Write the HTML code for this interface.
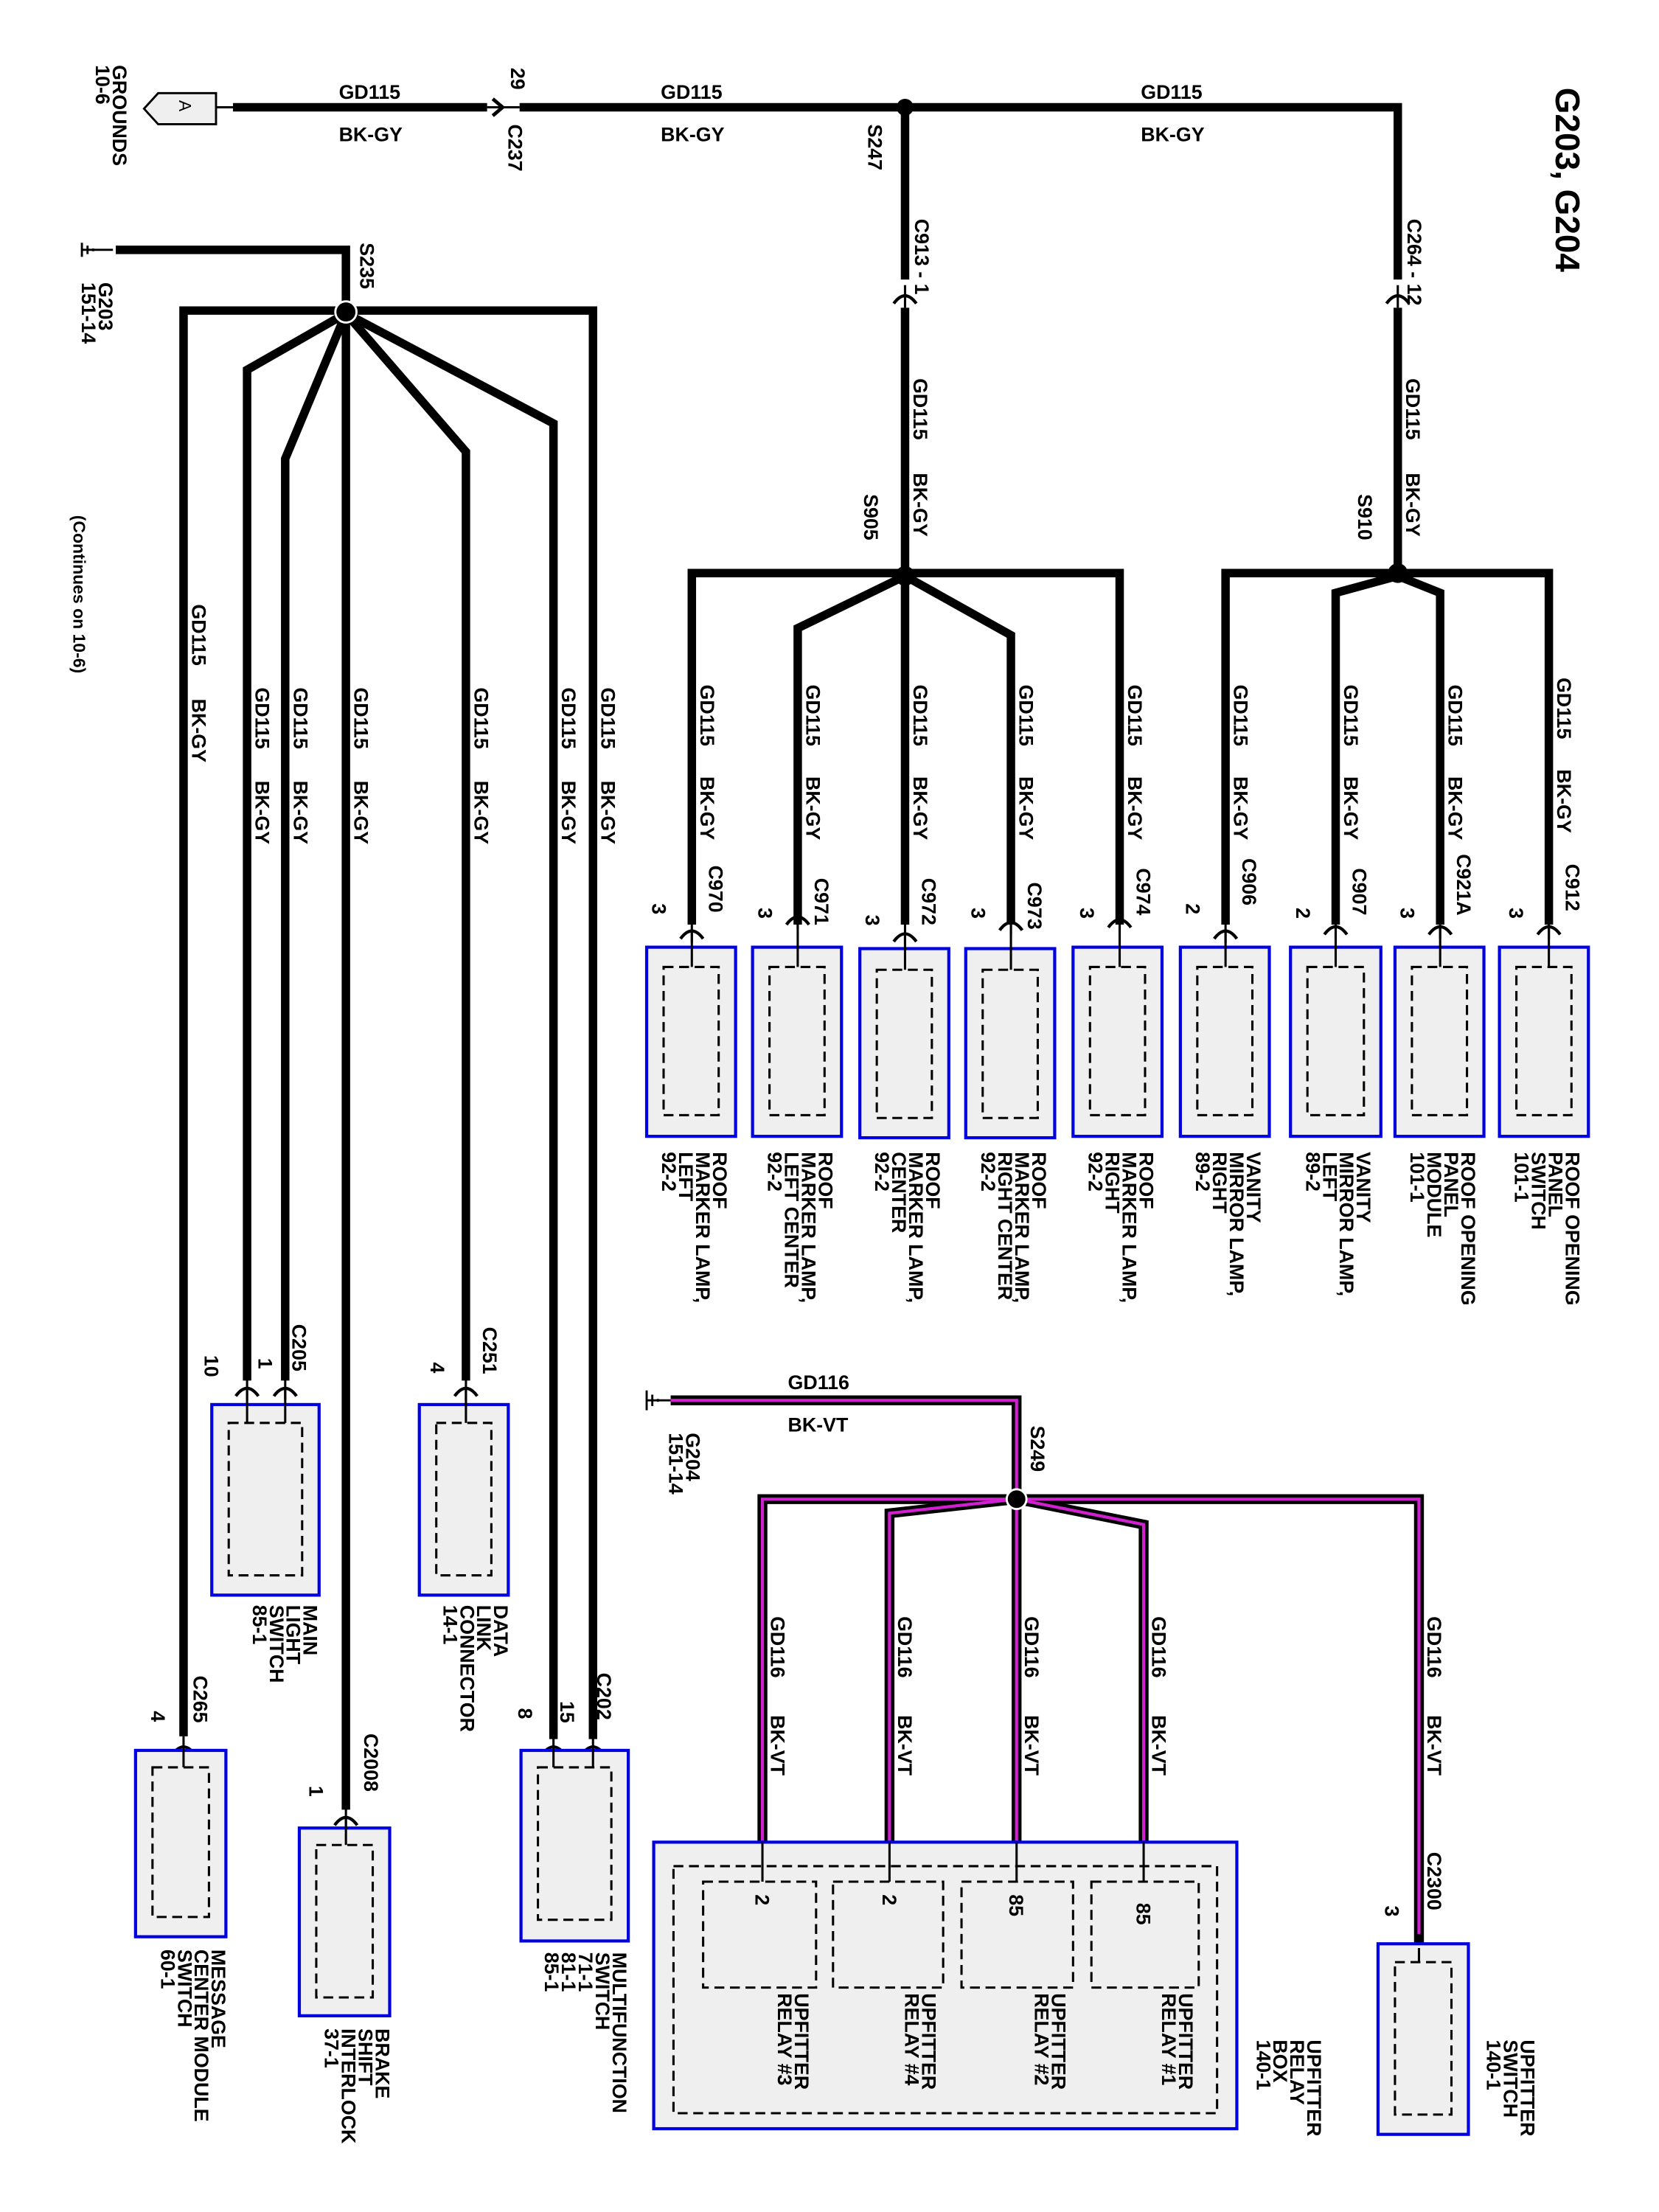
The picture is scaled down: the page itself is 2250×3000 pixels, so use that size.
<!DOCTYPE html>
<html><head><meta charset="utf-8"><style>
html,body{margin:0;padding:0;background:#fff;}
svg{display:block;}
text{font-family:"Liberation Sans",sans-serif;font-size:14px;fill:#000;font-weight:bold;}
.w{stroke:#000;stroke-width:6;fill:none;stroke-linejoin:miter;}
.wt{stroke:#000;stroke-width:1.6;fill:none;}
.b{fill:#efefef;stroke:#0000e0;stroke-width:2.2;}
.d{fill:none;stroke:#000;stroke-width:1.6;stroke-dasharray:7,4;}
.pb{stroke:#000;stroke-width:7;fill:none;}
.pm{stroke:#d020d0;stroke-width:2.2;fill:none;}
</style></head><body>
<svg width="2250" height="3000" viewBox="0 0 1175 1567" preserveAspectRatio="none" xmlns="http://www.w3.org/2000/svg">
<defs>
<g id="ch"><path d="M-8,7 Q0,-4 8,7" fill="none" stroke="#000" stroke-width="2.2"/><line x1="0" y1="-6" x2="0" y2="10" stroke="#000" stroke-width="1.6"/></g>
</defs>

<text transform="translate(1102,62) rotate(90)" style="font-size:24px">G203, G204</text>

<path d="M153,66 L153,88 L112,88 L102,77 L112,66 Z" fill="#efefef" stroke="#000" stroke-width="1.5"/>
<text transform="translate(127,71) rotate(90)" style="font-size:12px;font-weight:normal">A</text>
<text transform="translate(80,46) rotate(90)">GROUNDS</text>
<text transform="translate(68,46) rotate(90)">10-6</text>
<line x1="153" y1="76" x2="165" y2="76" class="wt"/>
<line x1="165" y1="76" x2="345" y2="76" class="w"/>
<path d="M349,70 L356,76 L349,82" fill="none" stroke="#000" stroke-width="2.5"/>
<line x1="345" y1="76" x2="368" y2="76" class="wt"/>
<path d="M368,76 L990,76 L990,198" class="w"/>
<text x="240" y="70">GD115</text><text x="240" y="100">BK-GY</text>
<text x="468" y="70">GD115</text><text x="468" y="100">BK-GY</text>
<text x="808" y="70">GD115</text><text x="808" y="100">BK-GY</text>
<text transform="translate(362,48) rotate(90)">29</text>
<text transform="translate(360,88) rotate(90)">C237</text>
<circle cx="641" cy="76" r="6"/>
<text transform="translate(615,88) rotate(90)">S247</text>
<line x1="641" y1="76" x2="641" y2="198" class="w"/>
<use href="#ch" x="641" y="208"/>
<line x1="641" y1="218" x2="641" y2="408" class="w"/>
<text transform="translate(648,155) rotate(90)">C913 - 1</text>
<use href="#ch" x="990" y="208"/>
<line x1="990" y1="218" x2="990" y2="408" class="w"/>
<text transform="translate(997,155) rotate(90)">C264 - 12</text>
<text transform="translate(647,268) rotate(90)">GD115</text>
<text transform="translate(647,335) rotate(90)">BK-GY</text>
<text transform="translate(996,268) rotate(90)">GD115</text>
<text transform="translate(996,335) rotate(90)">BK-GY</text>
<text transform="translate(612,350) rotate(90)">S905</text>
<text transform="translate(962,350) rotate(90)">S910</text>

<path d="M490,655 L490,406 L641,406 L793,406 L793,655" class="w"/>
<path d="M641,408 L565,445 L565,655" class="w"/>
<path d="M641,408 L641,655" class="w"/>
<path d="M641,408 L716,450 L716,655" class="w"/>
<circle cx="641" cy="408" r="7"/>
<path d="M868,655 L868,406 L1097,406 L1097,655" class="w"/>
<path d="M990,408 L946,420 L946,655" class="w"/>
<path d="M990,408 L1020,420 L1020,655" class="w"/>
<circle cx="990" cy="406" r="7"/>

<g>
<text transform="translate(496,485) rotate(90)">GD115</text><text transform="translate(496,550) rotate(90)">BK-GY</text>
<text transform="translate(571,485) rotate(90)">GD115</text><text transform="translate(571,550) rotate(90)">BK-GY</text>
<text transform="translate(647,485) rotate(90)">GD115</text><text transform="translate(647,550) rotate(90)">BK-GY</text>
<text transform="translate(722,485) rotate(90)">GD115</text><text transform="translate(722,550) rotate(90)">BK-GY</text>
<text transform="translate(799,485) rotate(90)">GD115</text><text transform="translate(799,550) rotate(90)">BK-GY</text>
<text transform="translate(874,485) rotate(90)">GD115</text><text transform="translate(874,550) rotate(90)">BK-GY</text>
<text transform="translate(952,485) rotate(90)">GD115</text><text transform="translate(952,550) rotate(90)">BK-GY</text>
<text transform="translate(1026,485) rotate(90)">GD115</text><text transform="translate(1026,550) rotate(90)">BK-GY</text>
<text transform="translate(1103,480) rotate(90)">GD115</text><text transform="translate(1103,545) rotate(90)">BK-GY</text>
</g>
<g>
<text transform="translate(502,613) rotate(90)">C970</text><text transform="translate(462,640) rotate(90)">3</text>
<text transform="translate(577,622) rotate(90)">C971</text><text transform="translate(537,643) rotate(90)">3</text>
<text transform="translate(653,622) rotate(90)">C972</text><text transform="translate(613,648) rotate(90)">3</text>
<text transform="translate(728,625) rotate(90)">C973</text><text transform="translate(688,643) rotate(90)">3</text>
<text transform="translate(805,615) rotate(90)">C974</text><text transform="translate(765,643) rotate(90)">3</text>
<text transform="translate(880,608) rotate(90)">C906</text><text transform="translate(840,640) rotate(90)">2</text>
<text transform="translate(958,615) rotate(90)">C907</text><text transform="translate(918,643) rotate(90)">2</text>
<text transform="translate(1032,605) rotate(90)">C921A</text><text transform="translate(992,643) rotate(90)">3</text>
<text transform="translate(1109,612) rotate(90)">C912</text><text transform="translate(1069,643) rotate(90)">3</text>
</g>
<g>
<use href="#ch" x="490" y="658"/><use href="#ch" x="565" y="648"/><use href="#ch" x="641" y="660"/><use href="#ch" x="716" y="652"/><use href="#ch" x="793" y="650"/>
<use href="#ch" x="868" y="658"/><use href="#ch" x="946" y="655"/><use href="#ch" x="1020" y="655"/><use href="#ch" x="1097" y="655"/>
</g>
<g>
<rect class="b" x="458" y="671" width="63" height="134"/><rect class="d" x="470" y="685" width="39" height="105"/><line x1="490" y1="660" x2="490" y2="685" class="wt"/>
<rect class="b" x="533" y="671" width="63" height="134"/><rect class="d" x="545" y="685" width="39" height="105"/><line x1="565" y1="650" x2="565" y2="685" class="wt"/>
<rect class="b" x="609" y="672" width="63" height="134"/><rect class="d" x="621" y="687" width="39" height="105"/><line x1="641" y1="662" x2="641" y2="687" class="wt"/>
<rect class="b" x="684" y="672" width="63" height="134"/><rect class="d" x="696" y="687" width="39" height="105"/><line x1="716" y1="654" x2="716" y2="687" class="wt"/>
<rect class="b" x="760" y="671" width="63" height="134"/><rect class="d" x="772" y="685" width="39" height="105"/><line x1="793" y1="652" x2="793" y2="685" class="wt"/>
<rect class="b" x="836" y="671" width="63" height="134"/><rect class="d" x="848" y="685" width="39" height="105"/><line x1="868" y1="660" x2="868" y2="685" class="wt"/>
<rect class="b" x="914" y="671" width="64" height="134"/><rect class="d" x="926" y="685" width="40" height="105"/><line x1="946" y1="657" x2="946" y2="685" class="wt"/>
<rect class="b" x="988" y="671" width="63" height="134"/><rect class="d" x="1000" y="685" width="39" height="105"/><line x1="1020" y1="657" x2="1020" y2="685" class="wt"/>
<rect class="b" x="1062" y="671" width="63" height="134"/><rect class="d" x="1074" y="685" width="39" height="105"/><line x1="1097" y1="657" x2="1097" y2="685" class="wt"/>
</g>
<g>
<text transform="translate(505,816) rotate(90)"><tspan x="0" y="0">ROOF</tspan><tspan x="0" dy="12">MARKER LAMP,</tspan><tspan x="0" dy="12">LEFT</tspan><tspan x="0" dy="12">92-2</tspan></text>
<text transform="translate(580,816) rotate(90)"><tspan x="0" y="0">ROOF</tspan><tspan x="0" dy="12">MARKER LAMP,</tspan><tspan x="0" dy="12">LEFT CENTER</tspan><tspan x="0" dy="12">92-2</tspan></text>
<text transform="translate(656,816) rotate(90)"><tspan x="0" y="0">ROOF</tspan><tspan x="0" dy="12">MARKER LAMP,</tspan><tspan x="0" dy="12">CENTER</tspan><tspan x="0" dy="12">92-2</tspan></text>
<text transform="translate(731,816) rotate(90)"><tspan x="0" y="0">ROOF</tspan><tspan x="0" dy="12">MARKER LAMP,</tspan><tspan x="0" dy="12">RIGHT CENTER</tspan><tspan x="0" dy="12">92-2</tspan></text>
<text transform="translate(807,816) rotate(90)"><tspan x="0" y="0">ROOF</tspan><tspan x="0" dy="12">MARKER LAMP,</tspan><tspan x="0" dy="12">RIGHT</tspan><tspan x="0" dy="12">92-2</tspan></text>
<text transform="translate(883,816) rotate(90)"><tspan x="0" y="0">VANITY</tspan><tspan x="0" dy="12">MIRROR LAMP,</tspan><tspan x="0" dy="12">RIGHT</tspan><tspan x="0" dy="12">89-2</tspan></text>
<text transform="translate(961,816) rotate(90)"><tspan x="0" y="0">VANITY</tspan><tspan x="0" dy="12">MIRROR LAMP,</tspan><tspan x="0" dy="12">LEFT</tspan><tspan x="0" dy="12">89-2</tspan></text>
<text transform="translate(1035,816) rotate(90)"><tspan x="0" y="0">ROOF OPENING</tspan><tspan x="0" dy="12">PANEL</tspan><tspan x="0" dy="12">MODULE</tspan><tspan x="0" dy="12">101-1</tspan></text>
<text transform="translate(1109,816) rotate(90)"><tspan x="0" y="0">ROOF OPENING</tspan><tspan x="0" dy="12">PANEL</tspan><tspan x="0" dy="12">SWITCH</tspan><tspan x="0" dy="12">101-1</tspan></text>
</g>

<path d="M58,172 L58,182 M62,174 L62,180 M66,176 L66,178 M58,177 L80,177" stroke="#000" stroke-width="1.5" fill="none"/>
<text transform="translate(70,200) rotate(90)">G203</text>
<text transform="translate(58,200) rotate(90)">151-14</text>
<path d="M82,177 L245,177 L245,220" class="w"/>
<text transform="translate(255,172) rotate(90)">S235</text>
<path d="M130,1230 L130,220 L420,220 L420,1232" class="w"/>
<path d="M245,222 L175,262 L175,978" class="w"/>
<path d="M245,222 L202,325 L202,978" class="w"/>
<path d="M245,222 L245,1282" class="w"/>
<path d="M245,222 L330,320 L330,978" class="w"/>
<path d="M245,222 L392,300 L392,1232" class="w"/>
<circle cx="245" cy="221" r="7.5" stroke="#fff" stroke-width="1.5"/>
<text transform="translate(52,365) rotate(90)" style="font-size:12px">(Continues on 10-6)</text>
<g>
<text transform="translate(136,428) rotate(90)">GD115</text><text transform="translate(136,495) rotate(90)">BK-GY</text>
<text transform="translate(181,487) rotate(90)">GD115</text><text transform="translate(181,553) rotate(90)">BK-GY</text>
<text transform="translate(208,487) rotate(90)">GD115</text><text transform="translate(208,553) rotate(90)">BK-GY</text>
<text transform="translate(251,487) rotate(90)">GD115</text><text transform="translate(251,553) rotate(90)">BK-GY</text>
<text transform="translate(336,487) rotate(90)">GD115</text><text transform="translate(336,553) rotate(90)">BK-GY</text>
<text transform="translate(398,487) rotate(90)">GD115</text><text transform="translate(398,553) rotate(90)">BK-GY</text>
<text transform="translate(426,487) rotate(90)">GD115</text><text transform="translate(426,553) rotate(90)">BK-GY</text>
</g>
<use href="#ch" x="175" y="982"/><use href="#ch" x="202" y="982"/>
<text transform="translate(207,938) rotate(90)">C205</text>
<text transform="translate(183,962) rotate(90)">1</text><text transform="translate(145,960) rotate(90)">10</text>
<use href="#ch" x="330" y="982"/>
<text transform="translate(342,940) rotate(90)">C251</text><text transform="translate(305,965) rotate(90)">4</text>
<use href="#ch" x="130" y="1236"/>
<text transform="translate(137,1187) rotate(90)">C265</text><text transform="translate(107,1212) rotate(90)">4</text>
<use href="#ch" x="245" y="1286"/>
<text transform="translate(258,1228) rotate(90)">C2008</text><text transform="translate(219,1265) rotate(90)">1</text>
<use href="#ch" x="392" y="1236"/><use href="#ch" x="420" y="1236"/>
<text transform="translate(423,1185) rotate(90)">C202</text><text transform="translate(397,1205) rotate(90)">15</text><text transform="translate(367,1210) rotate(90)">8</text>

<rect class="b" x="150" y="995" width="76" height="135"/><rect class="d" x="162" y="1008" width="52" height="108"/>
<line x1="175" y1="984" x2="175" y2="1008" class="wt"/><line x1="202" y1="984" x2="202" y2="1008" class="wt"/>
<rect class="b" x="297" y="995" width="63" height="135"/><rect class="d" x="309" y="1008" width="39" height="108"/>
<line x1="330" y1="984" x2="330" y2="1008" class="wt"/>
<rect class="b" x="96" y="1240" width="64" height="132"/><rect class="d" x="108" y="1252" width="40" height="106"/>
<line x1="130" y1="1238" x2="130" y2="1252" class="wt"/>
<rect class="b" x="212" y="1295" width="64" height="133"/><rect class="d" x="224" y="1307" width="40" height="108"/>
<line x1="245" y1="1288" x2="245" y2="1307" class="wt"/>
<rect class="b" x="369" y="1240" width="76" height="135"/><rect class="d" x="381" y="1252" width="52" height="108"/>
<line x1="392" y1="1238" x2="392" y2="1252" class="wt"/><line x1="420" y1="1238" x2="420" y2="1252" class="wt"/>

<text transform="translate(215,1137) rotate(90)"><tspan x="0" y="0">MAIN</tspan><tspan x="0" dy="12">LIGHT</tspan><tspan x="0" dy="12">SWITCH</tspan><tspan x="0" dy="12">85-1</tspan></text>
<text transform="translate(350,1137) rotate(90)"><tspan x="0" y="0">DATA</tspan><tspan x="0" dy="12">LINK</tspan><tspan x="0" dy="12">CONNECTOR</tspan><tspan x="0" dy="12">14-1</tspan></text>
<text transform="translate(150,1381) rotate(90)"><tspan x="0" y="0">MESSAGE</tspan><tspan x="0" dy="12">CENTER MODULE</tspan><tspan x="0" dy="12">SWITCH</tspan><tspan x="0" dy="12">60-1</tspan></text>
<text transform="translate(266,1437) rotate(90)"><tspan x="0" y="0">BRAKE</tspan><tspan x="0" dy="12">SHIFT</tspan><tspan x="0" dy="12">INTERLOCK</tspan><tspan x="0" dy="12">37-1</tspan></text>
<text transform="translate(434,1383) rotate(90)"><tspan x="0" y="0">MULTIFUNCTION</tspan><tspan x="0" dy="12">SWITCH</tspan><tspan x="0" dy="12">71-1</tspan><tspan x="0" dy="12">81-1</tspan><tspan x="0" dy="12">85-1</tspan></text>

<path d="M458,985 L458,999 M462,988 L462,996 M466,991 L466,993 M458,992 L475,992" stroke="#000" stroke-width="1.5" fill="none"/>
<text transform="translate(486,1015) rotate(90)">G204</text>
<text transform="translate(474,1015) rotate(90)">151-14</text>
<g>
<path d="M475,992 L720,992 L720,1062" class="pb"/>
<path d="M540,1305 L540,1062 L1005,1062 L1005,1380" class="pb"/>
<path d="M720,1062 L630,1072 L630,1305" class="pb"/>
<path d="M720,1062 L720,1305" class="pb"/>
<path d="M720,1062 L810,1080 L810,1305" class="pb"/>
<path d="M475,992 L720,992 L720,1062" class="pm"/>
<path d="M540,1305 L540,1062 L1005,1062 L1005,1370" class="pm"/>
<path d="M720,1062 L630,1072 L630,1305" class="pm"/>
<path d="M720,1062 L720,1305" class="pm"/>
<path d="M720,1062 L810,1080 L810,1305" class="pm"/>
</g>
<circle cx="720" cy="1062" r="7" stroke="#fff" stroke-width="1.5"/>
<text x="558" y="984">GD116</text><text x="558" y="1014">BK-VT</text>
<text transform="translate(730,1010) rotate(90)">S249</text>
<g>
<text transform="translate(546,1145) rotate(90)">GD116</text><text transform="translate(546,1215) rotate(90)">BK-VT</text>
<text transform="translate(636,1145) rotate(90)">GD116</text><text transform="translate(636,1215) rotate(90)">BK-VT</text>
<text transform="translate(726,1145) rotate(90)">GD116</text><text transform="translate(726,1215) rotate(90)">BK-VT</text>
<text transform="translate(816,1145) rotate(90)">GD116</text><text transform="translate(816,1215) rotate(90)">BK-VT</text>
<text transform="translate(1011,1145) rotate(90)">GD116</text><text transform="translate(1011,1215) rotate(90)">BK-VT</text>
</g>
<use href="#ch" x="1005" y="1378"/>
<text transform="translate(1011,1312) rotate(90)">C2300</text><text transform="translate(981,1350) rotate(90)">3</text>
<rect class="b" x="976" y="1377" width="64" height="135"/><rect class="d" x="988" y="1390" width="40" height="108"/>
<line x1="1005" y1="1380" x2="1005" y2="1390" class="wt"/>
<text transform="translate(1077,1445) rotate(90)"><tspan x="0" y="0">UPFITTER</tspan><tspan x="0" dy="12">SWITCH</tspan><tspan x="0" dy="12">140-1</tspan></text>

<rect class="b" x="463" y="1305" width="413" height="203"/>
<rect class="d" x="477" y="1322" width="385" height="175"/>
<rect class="d" x="498" y="1333" width="80" height="75"/>
<rect class="d" x="590" y="1333" width="78" height="75"/>
<rect class="d" x="681" y="1333" width="79" height="75"/>
<rect class="d" x="773" y="1333" width="76" height="75"/>
<line x1="540" y1="1305" x2="540" y2="1333" class="wt"/>
<line x1="630" y1="1305" x2="630" y2="1333" class="wt"/>
<line x1="720" y1="1305" x2="720" y2="1333" class="wt"/>
<line x1="810" y1="1305" x2="810" y2="1333" class="wt"/>
<text transform="translate(535,1342) rotate(90)">2</text>
<text transform="translate(625,1342) rotate(90)">2</text>
<text transform="translate(715,1342) rotate(90)">85</text>
<text transform="translate(805,1348) rotate(90)">85</text>
<text transform="translate(563,1412) rotate(90)"><tspan x="0" y="0">UPFITTER</tspan><tspan x="0" dy="12">RELAY #3</tspan></text>
<text transform="translate(653,1412) rotate(90)"><tspan x="0" y="0">UPFITTER</tspan><tspan x="0" dy="12">RELAY #4</tspan></text>
<text transform="translate(745,1412) rotate(90)"><tspan x="0" y="0">UPFITTER</tspan><tspan x="0" dy="12">RELAY #2</tspan></text>
<text transform="translate(835,1412) rotate(90)"><tspan x="0" y="0">UPFITTER</tspan><tspan x="0" dy="12">RELAY #1</tspan></text>
<text transform="translate(926,1445) rotate(90)"><tspan x="0" y="0">UPFITTER</tspan><tspan x="0" dy="12">RELAY</tspan><tspan x="0" dy="12">BOX</tspan><tspan x="0" dy="12">140-1</tspan></text>
</svg>
</body></html>
